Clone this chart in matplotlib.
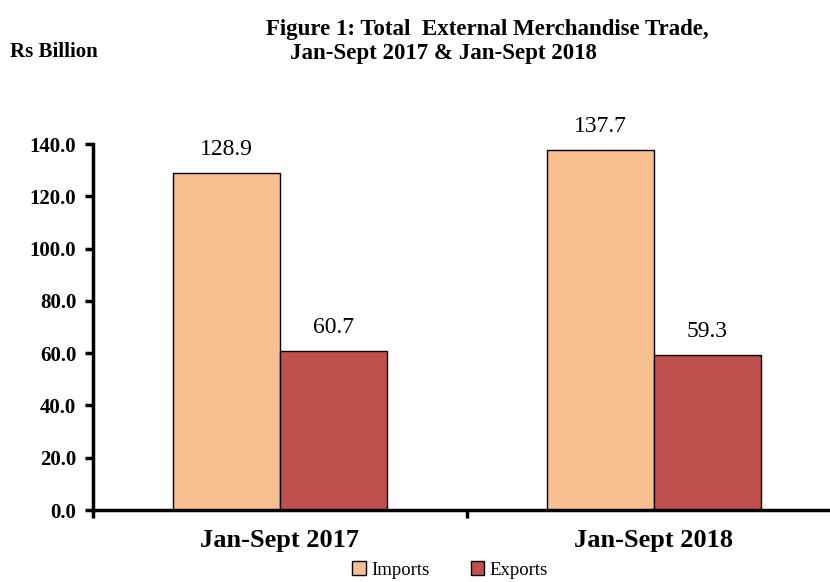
import numpy as np
import matplotlib.pyplot as plt

# data
periods = ["Jan-Sept 2017", "Jan-Sept 2018"]
imports = [128.9, 137.7]
exports = [60.7, 59.3]
yticks = [0, 20, 40, 60, 80, 100, 120, 140]

plt.rcParams['font.family'] = ['Liberation Serif', 'DejaVu Serif']

fig = plt.figure(figsize=(8.3, 5.82), dpi=100)
ax = fig.add_axes([93/830, 72/582, 748/830, 366/582])

x = np.arange(len(periods)) + 0.5
w = 0.285
b1 = ax.bar(x - w/2, imports, w, color="#F9C08F", edgecolor="black", linewidth=1, label="Imports")
b2 = ax.bar(x + w/2, exports, w, color="#C0504D", edgecolor="black", linewidth=1, label="Exports")

for bars, vals in ((b1, imports), (b2, exports)):
    for r, v in zip(bars, vals):
        ax.text(r.get_x() + r.get_width()/2, v + 5, f"{v:.1f}", ha="center", va="bottom", fontsize=17)

ax.set_xlim(0, 2)
ax.set_ylim(0, 140)
ax.set_yticks(yticks)
ax.set_yticklabels([f"{t:.1f}" for t in yticks], fontsize=15, fontweight="bold")
ax.set_xticks([0, 1, 2])
ax.set_xticklabels([])
ax.set_xticks(x, minor=True)
ax.set_xticklabels(periods, minor=True, fontsize=19, fontweight="bold")
ax.tick_params(axis="x", which="minor", length=0, pad=14)
ax.tick_params(axis="x", which="major", length=6, width=2.5, direction="out")
ax.tick_params(axis="y", length=6, width=2.5, direction="out", pad=6)

for s in ("top", "right"):
    ax.spines[s].set_visible(False)
for s in ("left", "bottom"):
    ax.spines[s].set_linewidth(2.5)

fig.text(487/830, 1 - 30/582, "Figure 1: Total  External Merchandise Trade,", ha="center", va="center",
         fontsize=16.5, fontweight="bold")
fig.text(443/830, 1 - 53/582, "Jan-Sept 2017 & Jan-Sept 2018", ha="center", va="center",
         fontsize=16.5, fontweight="bold")
fig.text(10/830, 1 - 52/582, "Rs Billion", ha="left", va="center", fontsize=15, fontweight="bold")

fig.legend(handles=[b1, b2], loc="center", bbox_to_anchor=(450/830, 1 - 570/582), ncol=2,
           frameon=False, fontsize=13.5, handlelength=0.7, handleheight=0.7, handletextpad=0.3,
           columnspacing=2.2, borderpad=0.2)

fig.savefig("out.png", dpi=100)
